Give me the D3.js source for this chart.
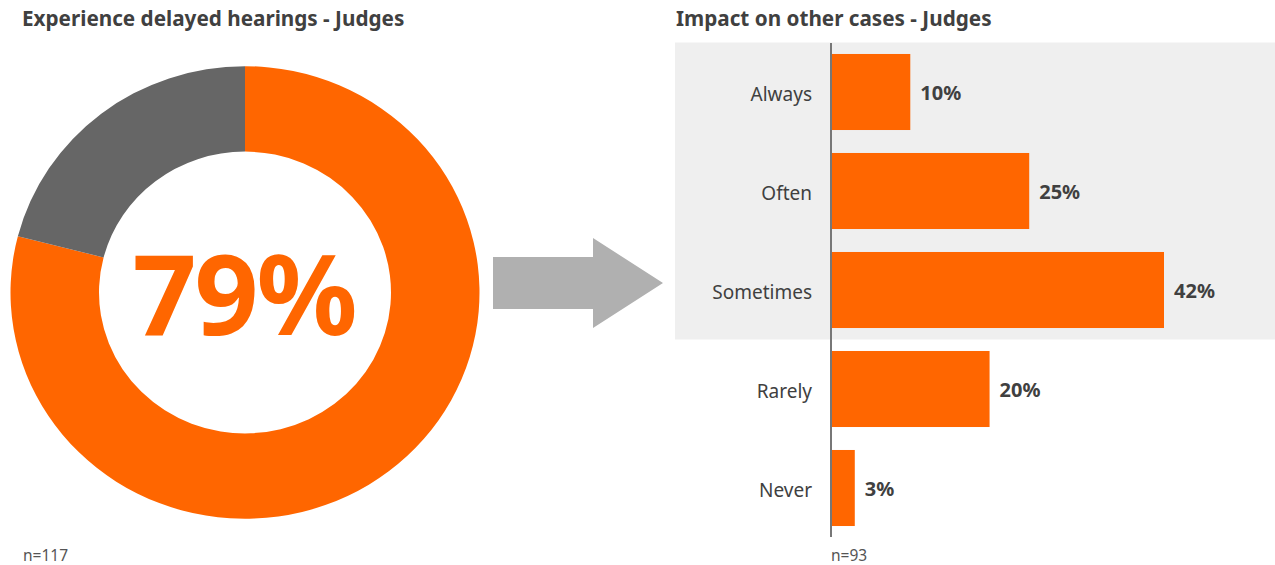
<!DOCTYPE html>
<html>
<head>
<meta charset="utf-8">
<script src="https://cdn.jsdelivr.net/npm/d3@7"></script>
<style>
  body { margin: 0; background: #fff; }
  svg { display: block; font-family: "Noto Sans", "Open Sans", sans-serif; }
</style>
</head>
<body>
<div class="container"></div>
<script>
const donutLabels = ["Yes", "No"];
const donutValues = [79, 21];
const donutTitle = "Experience delayed hearings - Judges";
const donutN = "n=117";

const categories = ["Always", "Often", "Sometimes", "Rarely", "Never"];
const values = [10, 25, 42, 20, 3];
const shaded = ["Always", "Often", "Sometimes"];
const barTitle = "Impact on other cases - Judges";
const barN = "n=93";

const w = 1275;
const h = 565;
const orange = "#ff6600";
const textColor = "#404040";

const svg = d3.select(".container")
  .append("svg")
  .attr("width", w)
  .attr("height", h);

// ---- donut
const cx = 245, cy = 292.5;
const outerR = 234.5, innerR = 146;
const squash = 0.965;

svg.append("text")
  .attr("x", 22)
  .attr("y", 26)
  .attr("font-size", 20.7)
  .attr("font-weight", "bold")
  .attr("fill", textColor)
  .text(donutTitle);

const pie = d3.pie().sort(null).value(d => d);
const arc = d3.arc().innerRadius(innerR).outerRadius(outerR);

const donut = svg.append("g")
  .attr("transform", "translate(" + cx + "," + cy + ") scale(1," + squash + ")");

donut.selectAll("path")
  .data(pie(donutValues))
  .enter()
  .append("path")
  .attr("d", arc)
  .attr("fill", (d, i) => i === 0 ? orange : "#666666");

svg.append("text")
  .attr("x", cx - 1)
  .attr("y", 335)
  .attr("text-anchor", "middle")
  .attr("font-size", 112)
  .attr("font-weight", "bold")
  .attr("fill", orange)
  .attr("letter-spacing", -2)
  .text(donutValues[0] + "%");

svg.append("text")
  .attr("x", 23)
  .attr("y", 561)
  .attr("font-size", 15.5)
  .attr("fill", "#555")
  .text(donutN);

// ---- arrow
svg.append("path")
  .attr("d", "M493,257 L593,257 L593,238 L663,283 L593,328 L593,309 L493,309 Z")
  .attr("fill", "#b0b0b0");

// ---- bars
const x0 = 831;
const xScale = d3.scaleLinear()
  .domain([0, 42])
  .range([0, 333]);

const yScale = d3.scaleBand()
  .domain(categories)
  .range([42.5, 537.5])
  .paddingInner(0.232)
  .paddingOuter(0.116);

svg.append("text")
  .attr("x", 676)
  .attr("y", 26)
  .attr("font-size", 20.7)
  .attr("font-weight", "bold")
  .attr("fill", textColor)
  .text(barTitle);

const step = yScale.step();
const shadeTop = yScale(shaded[0]) - yScale.paddingOuter() * step;
svg.append("rect")
  .attr("x", 675)
  .attr("y", shadeTop)
  .attr("width", w - 675)
  .attr("height", step * shaded.length)
  .attr("fill", "#efefef");

svg.selectAll(".bar")
  .data(values)
  .enter()
  .append("rect")
  .attr("class", "bar")
  .attr("x", x0)
  .attr("y", (d, i) => yScale(categories[i]))
  .attr("width", d => xScale(d))
  .attr("height", yScale.bandwidth())
  .attr("fill", orange);

svg.selectAll(".cat")
  .data(categories)
  .enter()
  .append("text")
  .attr("class", "cat")
  .attr("x", 812)
  .attr("y", d => yScale(d) + yScale.bandwidth() / 2 + 2)
  .attr("dy", "0.35em")
  .attr("text-anchor", "end")
  .attr("font-size", 19)
  .attr("fill", textColor)
  .text(d => d);

svg.selectAll(".val")
  .data(values)
  .enter()
  .append("text")
  .attr("class", "val")
  .attr("x", d => x0 + xScale(d) + 10)
  .attr("y", (d, i) => yScale(categories[i]) + yScale.bandwidth() / 2 + 1)
  .attr("dy", "0.35em")
  .attr("font-size", 20)
  .attr("font-weight", "bold")
  .attr("fill", textColor)
  .text(d => d + "%");

svg.append("line")
  .attr("x1", x0)
  .attr("x2", x0)
  .attr("y1", 43)
  .attr("y2", 537)
  .attr("stroke", "#777")
  .attr("stroke-width", 2);

svg.append("text")
  .attr("x", 831)
  .attr("y", 561)
  .attr("font-size", 15.5)
  .attr("fill", "#555")
  .text(barN);
</script>
</body>
</html>
